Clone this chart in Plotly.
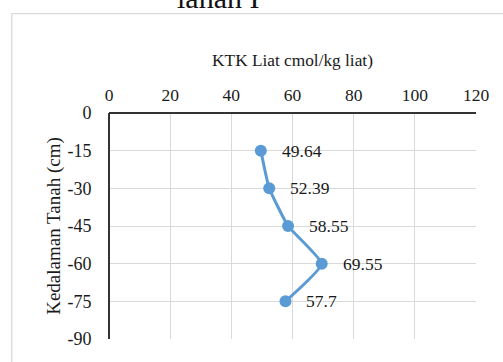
import plotly.graph_objects as go

# KTK liat (cmol/kg liat) per kedalaman tanah
depth = [-15, -30, -45, -60, -75]
ktk = [49.64, 52.39, 58.55, 69.55, 57.7]
labels = ["49.64", "52.39", "58.55", "69.55", "57.7"]
x_ticks = [0, 20, 40, 60, 80, 100, 120]
y_ticks = [0, -15, -30, -45, -60, -75, -90]
y_ticktext = ["0", "-15", "-30", "-45", "-60", "-75", "-90"]

blue = "#5B9BD5"
serif = "Liberation Serif"

fig = go.Figure(
    go.Scatter(
        x=ktk,
        y=depth,
        mode="lines+markers",
        line=dict(color=blue, width=3, shape="spline", smoothing=0.4),
        marker=dict(color=blue, size=12),
        cliponaxis=False,
        showlegend=False,
    )
)

# value labels to the right of each point
annotations = [
    dict(x=v, y=d, text=t, xref="x", yref="y", xanchor="left", yanchor="middle",
         xshift=19, showarrow=False, font=dict(family=serif, size=17.5, color="#1a1a1a"))
    for v, d, t in zip(ktk, depth, labels)
]
annotations.append(
    dict(text="lahan I", xref="paper", yref="paper", x=0.297, y=1.43,
         xanchor="center", yanchor="bottom", showarrow=False,
         font=dict(family=serif, size=30, color="#111"))
)

fig.update_layout(
    width=503,
    height=362,
    margin=dict(l=108.5, r=27, t=112.7, b=23),
    paper_bgcolor="white",
    plot_bgcolor="white",
    font=dict(family=serif, size=17, color="#1a1a1a"),
    xaxis=dict(
        side="top",
        range=[0, 120],
        tickvals=x_ticks,
        ticks="outside",
        ticklen=4,
        tickcolor="rgba(0,0,0,0)",
        showgrid=True,
        gridcolor="#d9d9d9",
        gridwidth=1.3,
        zeroline=False,
        showline=False,
        tickfont=dict(family=serif, size=17.5),
        title=dict(text="KTK Liat cmol/kg liat)", font=dict(family=serif, size=17.3), standoff=13),
    ),
    yaxis=dict(
        range=[-90, 0],
        tickvals=y_ticks,
        ticktext=y_ticktext,
        ticks="outside",
        ticklen=13,
        tickcolor="rgba(0,0,0,0)",
        showgrid=True,
        gridcolor="#d9d9d9",
        gridwidth=1.3,
        zeroline=False,
        showline=False,
        tickfont=dict(family=serif, size=18),
        title=dict(text="Kedalaman Tanah (cm)", font=dict(family=serif, size=19), standoff=1),
    ),
    shapes=[
        # outer chart frame
        dict(type="rect", xref="paper", yref="paper",
             x0=-0.265, x1=1.3, y0=-0.3, y1=1.44,
             line=dict(color="#d9d9d9", width=1.3), layer="below"),
        # dark axis lines along top and left
        dict(type="line", xref="paper", yref="paper",
             x0=0, x1=1, y0=1, y1=1, line=dict(color="#333", width=2)),
        dict(type="line", xref="paper", yref="paper",
             x0=0, x1=0, y0=0, y1=1, line=dict(color="#333", width=2)),
    ],
    annotations=annotations,
)

fig.write_html("out.html")
